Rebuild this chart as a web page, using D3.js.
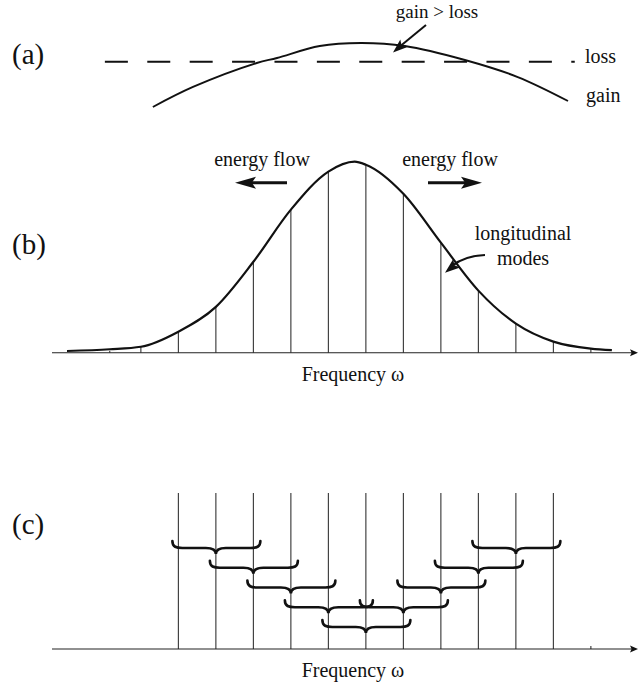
<!DOCTYPE html>
<meta charset="utf-8">
<script src="https://cdn.jsdelivr.net/npm/d3@7"></script>
<style>
  body { margin: 0; background: #fff; }
  text { font-family: "Liberation Serif", "DejaVu Serif", serif; fill: #111; }
</style>
<div id="chart"></div>
<script>
// ---- data (frequency in mode spacings, 0 = central mode) ----

// (a) gain curve and loss level
const gainFreq  = [-5.68, -4.61, -2.91, -2.37, -1.23, -0.13, 1.04, 2.64, 4.05, 5.39];
const gainLevel = [0.043, 0.329, 0.671, 0.743, 0.914, 0.957, 0.914, 0.714, 0.471, 0.129];
const lossLevel = 0.69;
const lossFreq  = [-6.96, 5.57];

// (b) spectral envelope and longitudinal modes
const specFreq  = [-7.97, -6.83, -6, -5, -4, -3, -2, -1, -0.3, 0, 1, 2, 3, 4, 5, 6, 6.56];
const specValue = [0.9, 1.8, 3.1, 11, 24, 47.6, 74.9, 94.8, 100, 98.4, 83.2, 57.6, 32.5, 15.2, 5.8, 2.1, 1.3];
const modeFreqB  = [-6.83, -6, -5, -4, -3, -2, -1, 0, 1, 2, 3, 4, 5, 6];
const modeValueB = [1.0, 3.1, 11, 24, 47.6, 74.9, 94.8, 98.4, 83.2, 57.6, 32.5, 15.2, 5.8, 2.1];

// (c) locked modes and coupling braces
const modeFreqC  = [-5, -4, -3, -2, -1, 0, 1, 2, 3, 4, 5, 6];
const modeValueC = [1, 1, 1, 1, 1, 1, 1, 1, 1, 1, 1, 0.02];
const braceCenter = [-4, 4, -3, 3, -2, 2, -1, 1, 0];
const braceRow    = [1, 1, 2, 2, 3, 3, 4, 4, 5];

// ---- scales ----
const W = 638, H = 688;
const x = d3.scaleLinear().domain([-8.37, 7.23]).range([52, 637]);
const yA = d3.scaleLinear().domain([0, 1]).range([110, 40]);
const yB = d3.scaleLinear().domain([0, 100]).range([352.7, 161.7]);
const yC = d3.scaleLinear().domain([0, 1]).range([649, 493]);
const yBrace = d3.scaleLinear().domain([1, 5]).range([548, 627]);

const svg = d3.select("#chart").append("svg")
    .attr("width", W)
    .attr("height", H)
    .style("background", "#fff");

// filled, slightly swept-back arrow head
function arrowHead(g, tip, from, len, wid) {
    var a = Math.atan2(tip[1] - from[1], tip[0] - from[0]);
    var c = Math.cos(a), s = Math.sin(a);
    var bx = tip[0] - len * c, by = tip[1] - len * s;
    var nx = bx + len * 0.2 * c, ny = by + len * 0.2 * s;
    g.append("path")
        .attr("d", "M" + tip[0] + "," + tip[1] +
            "L" + (bx - s * wid / 2) + "," + (by + c * wid / 2) +
            "L" + nx + "," + ny +
            "L" + (bx + s * wid / 2) + "," + (by - c * wid / 2) + "Z")
        .attr("fill", "#111");
}

function axisWithArrow(y0) {
    var r = x.range();
    svg.append("line")
        .attr("x1", r[0]).attr("x2", r[1] - 5)
        .attr("y1", y0).attr("y2", y0)
        .attr("stroke", "#222").attr("stroke-width", 1.1);
    arrowHead(svg, [r[1] + 1, y0], [r[0], y0], 8, 7);
}

// ---------------- (a) ----------------
svg.append("text").attr("x", 12).attr("y", 64).style("font-size", "29px").text("(a)");

svg.append("line")
    .attr("x1", x(lossFreq[0])).attr("x2", x(lossFreq[1]))
    .attr("y1", yA(lossLevel)).attr("y2", yA(lossLevel))
    .attr("stroke", "#111").attr("stroke-width", 2)
    .attr("stroke-dasharray", "23 19.4");

var gainPts = gainFreq.map(function (f, i) { return [f, gainLevel[i]]; });
svg.append("path")
    .datum(gainPts)
    .attr("fill", "none").attr("stroke", "#111").attr("stroke-width", 1.9)
    .attr("d", d3.line()
        .curve(d3.curveCatmullRom.alpha(0.5))
        .x(function (d) { return x(d[0]); })
        .y(function (d) { return yA(d[1]); }));

svg.append("text").attr("x", 437).attr("y", 18).attr("text-anchor", "middle")
    .style("font-size", "19px").text("gain > loss");
svg.append("line").attr("x1", 426).attr("y1", 25).attr("x2", 398).attr("y2", 48)
    .attr("stroke", "#111").attr("stroke-width", 2);
arrowHead(svg, [393, 52.5], [426, 24], 14, 10);

svg.append("text").attr("x", 585).attr("y", 63).style("font-size", "20px").text("loss");
svg.append("text").attr("x", 586).attr("y", 102).style("font-size", "20px").text("gain");

// ---------------- (b) ----------------
svg.append("text").attr("x", 12).attr("y", 254).style("font-size", "29px").text("(b)");

svg.append("g").selectAll("line")
    .data(modeFreqB)
    .enter().append("line")
    .attr("x1", function (d) { return x(d); })
    .attr("x2", function (d) { return x(d); })
    .attr("y1", yB(0))
    .attr("y2", function (d, i) { return yB(modeValueB[i]); })
    .attr("stroke", "#333").attr("stroke-width", 1.1);

var specPts = specFreq.map(function (f, i) { return [f, specValue[i]]; });
svg.append("path")
    .datum(specPts)
    .attr("fill", "none").attr("stroke", "#111").attr("stroke-width", 2.2)
    .attr("d", d3.line()
        .curve(d3.curveMonotoneX)
        .x(function (d) { return x(d[0]); })
        .y(function (d) { return yB(d[1]); }));

axisWithArrow(yB(0));

svg.append("text").attr("x", 353).attr("y", 381).attr("text-anchor", "middle")
    .style("font-size", "20px").text("Frequency ω");

// energy flow arrows
svg.append("text").attr("x", 262).attr("y", 166).attr("text-anchor", "middle")
    .style("font-size", "20px").text("energy flow");
svg.append("text").attr("x", 450).attr("y", 166).attr("text-anchor", "middle")
    .style("font-size", "20px").text("energy flow");
svg.append("line").attr("x1", 287).attr("x2", 250).attr("y1", 182.7).attr("y2", 182.7)
    .attr("stroke", "#111").attr("stroke-width", 3);
arrowHead(svg, [235, 182.7], [287, 182.7], 21, 12);
svg.append("line").attr("x1", 428).attr("x2", 466).attr("y1", 182.7).attr("y2", 182.7)
    .attr("stroke", "#111").attr("stroke-width", 3);
arrowHead(svg, [482, 182.7], [428, 182.7], 21, 12);

// longitudinal modes label
svg.append("text").attr("x", 523).attr("y", 240).attr("text-anchor", "middle")
    .style("font-size", "20px").text("longitudinal");
svg.append("text").attr("x", 523).attr("y", 265).attr("text-anchor", "middle")
    .style("font-size", "20px").text("modes");
svg.append("path")
    .attr("d", "M485,255 Q464,256 452,266")
    .attr("fill", "none").attr("stroke", "#111").attr("stroke-width", 2.2);
arrowHead(svg, [445, 272.7], [462, 259], 15, 11);

// ---------------- (c) ----------------
svg.append("text").attr("x", 12).attr("y", 534).style("font-size", "29px").text("(c)");

svg.append("g").selectAll("line")
    .data(modeFreqC)
    .enter().append("line")
    .attr("x1", function (d) { return x(d); })
    .attr("x2", function (d) { return x(d); })
    .attr("y1", yC(0))
    .attr("y2", function (d, i) { return yC(modeValueC[i]); })
    .attr("stroke", "#333").attr("stroke-width", 1.1);

axisWithArrow(yC(0));

svg.append("text").attr("x", 353).attr("y", 677).attr("text-anchor", "middle")
    .style("font-size", "20px").text("Frequency ω");

// curly brace under neighbouring modes k-1 .. k+1, tip at mode k
function bracePath(k, row) {
    var x0 = x(k - 1) - 6, x1 = x(k + 1) + 7, cx = x(k), y = yBrace(row);
    var u = 7, t = 6, r = 10;
    return "M" + x0 + "," + (y - u) +
        "C" + x0 + "," + (y - 1) + " " + (x0 + 4) + "," + y + " " + (x0 + r) + "," + y +
        "L" + (cx - r) + "," + y +
        "C" + (cx - 4) + "," + y + " " + cx + "," + (y + 1) + " " + cx + "," + (y + t) +
        "C" + cx + "," + (y + 1) + " " + (cx + 4) + "," + y + " " + (cx + r) + "," + y +
        "L" + (x1 - r) + "," + y +
        "C" + (x1 - 4) + "," + y + " " + x1 + "," + (y - 1) + " " + x1 + "," + (y - u);
}

svg.append("g").selectAll("path")
    .data(braceCenter)
    .enter().append("path")
    .attr("d", function (d, i) { return bracePath(d, braceRow[i]); })
    .attr("fill", "none").attr("stroke", "#111").attr("stroke-width", 2.6)
    .attr("stroke-linecap", "round");
</script>
